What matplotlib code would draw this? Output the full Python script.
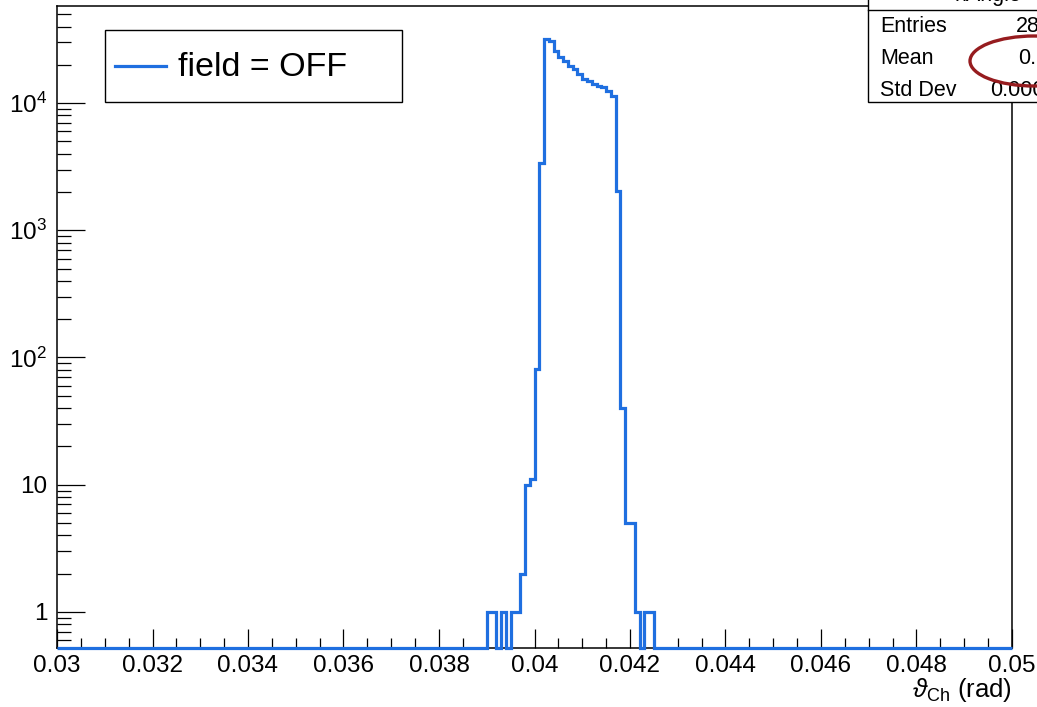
import numpy as np
import matplotlib
matplotlib.use("Agg")
import matplotlib.pyplot as plt
from matplotlib.patches import Rectangle, Ellipse
from matplotlib.lines import Line2D
from matplotlib.ticker import FixedLocator, FixedFormatter, MultipleLocator, LogLocator, NullFormatter

# ---- histogram contents -------------------------------------------------
x_min, x_max = 0.03, 0.05
bin_width = 0.0001
first_filled_bin = 0.0390          # low edge of the first listed bin
counts = [1, 1, 0, 1, 0, 1, 1, 2, 10, 11, 81, 3370,
          31900, 30970, 25800, 22900, 21550, 19670, 18530, 16900,
          15440, 14820, 14120, 13690, 13300, 12500, 11300,
          2040, 40, 5, 5, 1, 0, 1, 1]

x_tick_values = [0.030, 0.032, 0.034, 0.036, 0.038, 0.040,
                 0.042, 0.044, 0.046, 0.048, 0.050]
x_tick_labels = ["0.03", "0.032", "0.034", "0.036", "0.038", "0.04",
                 "0.042", "0.044", "0.046", "0.048", "0.05"]
y_tick_values = [1, 10, 100, 1000, 10000]
y_tick_labels = ["1", "10", r"$\mathregular{10^{2}}$",
                 r"$\mathregular{10^{3}}$", r"$\mathregular{10^{4}}$"]
y_range = (0.52, 58000)

legend_label = "field = OFF"
hist_name = "hAngle"
x_title = r"$\vartheta_{\mathregular{Ch}}$ (rad)"

line_blue = "#1f6fe0"
mark_red = "#961c1f"

# ---- style ---------------------------------------------------------------
plt.rcParams["font.family"] = ["Liberation Sans", "DejaVu Sans"]
plt.rcParams["mathtext.fontset"] = "custom"
plt.rcParams["mathtext.rm"] = "Liberation Sans"
plt.rcParams["mathtext.it"] = "Liberation Sans:italic"

W, H = 1037, 707
fig = plt.figure(figsize=(W / 100, H / 100), dpi=100)
fig.patch.set_facecolor("white")


def fx(px):
    return px / W


def fy(py):
    return 1 - py / H


ax_l, ax_r, ax_t, ax_b = 57, 1012, 6, 648
ax = fig.add_axes([fx(ax_l), fy(ax_b), (ax_r - ax_l) / W, (ax_b - ax_t) / H])

# ---- build the binned histogram -----------------------------------------
n_bins = int(round((x_max - x_min) / bin_width))
edges = x_min + bin_width * np.arange(n_bins + 1)
values = np.zeros(n_bins)
start = int(round((first_filled_bin - x_min) / bin_width))
values[start:start + len(counts)] = counts

# empty bins are drawn along the bottom of the frame
shown = np.where(values > 0, values, y_range[0])
ax.stairs(shown, edges, baseline=None, color=line_blue, linewidth=2.3,
          clip_on=False, zorder=3)

ax.set_yscale("log")
ax.set_xlim(x_min, x_max)
ax.set_ylim(*y_range)

# ---- axes decoration ----------------------------------------------------
for side in ("top", "right", "left", "bottom"):
    ax.spines[side].set_linewidth(1.1)

ax.xaxis.set_major_locator(FixedLocator(x_tick_values))
ax.xaxis.set_major_formatter(FixedFormatter(x_tick_labels))
ax.xaxis.set_minor_locator(MultipleLocator(0.0005))
ax.yaxis.set_major_locator(FixedLocator(y_tick_values))
ax.yaxis.set_major_formatter(FixedFormatter(y_tick_labels))
ax.yaxis.set_minor_locator(LogLocator(base=10, subs=np.arange(2, 10), numticks=20))
ax.yaxis.set_minor_formatter(NullFormatter())

ax.tick_params(axis="both", which="both", direction="in", top=False, right=False,
               width=0.9, labelsize=17.5, colors="black")
ax.tick_params(axis="x", which="major", length=13.7, pad=5)
ax.tick_params(axis="x", which="minor", length=6.9)
ax.tick_params(axis="y", which="major", length=20, pad=7)
ax.tick_params(axis="y", which="minor", length=10)

fig.text(fx(ax_r), fy(690), x_title, ha="right", va="center", fontsize=18.5)

# ---- legend box ---------------------------------------------------------
fig.patches.append(Rectangle((fx(105), fy(102)), (402 - 105) / W, (102 - 30) / H,
                             transform=fig.transFigure, facecolor="white",
                             edgecolor="black", linewidth=1.0, zorder=5))
fig.lines.append(Line2D([fx(115), fx(166)], [fy(66), fy(66)], transform=fig.transFigure,
                        color=line_blue, linewidth=2.3, zorder=6))
fig.text(fx(178), fy(67), legend_label, ha="left", va="center", fontsize=24.5, zorder=6)

# ---- statistics box -----------------------------------------------------
centres = 0.5 * (edges[:-1] + edges[1:])
entries = int(values.sum())
mean = float((centres * values).sum() / values.sum())
std = float(np.sqrt(((centres - mean) ** 2 * values).sum() / values.sum()))

box_l, box_r, box_b, box_top = 868, 1110, 102, -25
fig.patches.append(Rectangle((fx(box_l), fy(box_b)), (box_r - box_l) / W,
                             (box_b - box_top) / H, transform=fig.transFigure,
                             facecolor="white", edgecolor="black", linewidth=1.0, zorder=7))
fig.lines.append(Line2D([fx(box_l), fx(box_r)], [fy(10), fy(10)], transform=fig.transFigure,
                        color="black", linewidth=1.0, zorder=8))
fig.text(fx(988), fy(1), hist_name, ha="center", va="baseline", fontsize=15.5, zorder=8)

stat_rows = [("Entries", f"{entries}", 1016),
             ("Mean", f"{mean:.4g}", 1018),
             ("Std Dev", f"{std:.4g}", 990)]
for (name, val, xval), ypix in zip(stat_rows, (27, 59, 91)):
    fig.text(fx(880), fy(ypix), name, ha="left", va="center", fontsize=15.5, zorder=8)
    fig.text(fx(xval), fy(ypix), val, ha="left", va="center", fontsize=15.5, zorder=8)

# hand-drawn emphasis around the mean value
fig.patches.append(Ellipse((fx(1034), fy(61)), 128 / W, 50 / H, transform=fig.transFigure,
                           facecolor="none", edgecolor=mark_red, linewidth=2.4, zorder=9))

fig.savefig("out.png", dpi=100)
